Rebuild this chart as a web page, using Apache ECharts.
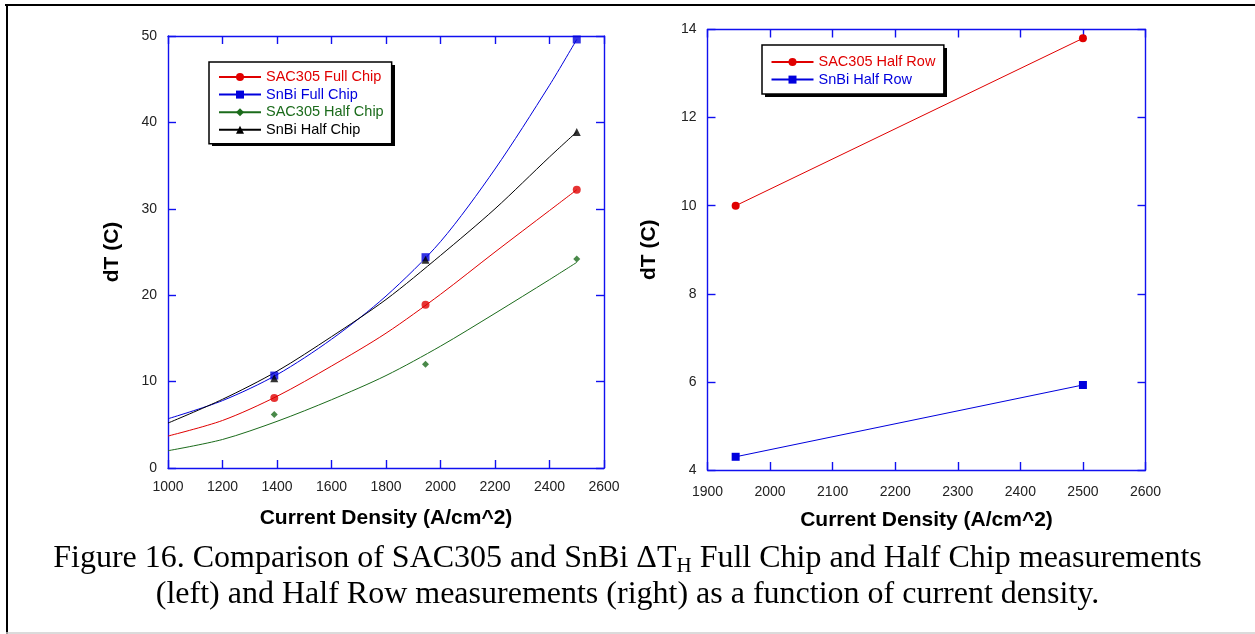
<!DOCTYPE html>
<html>
<head>
<meta charset="utf-8">
<script src="https://cdn.jsdelivr.net/npm/echarts@6/dist/echarts.min.js"></script>
<style>
  html, body { margin: 0; padding: 0; background: #fff; }
  #chart { width: 1255px; height: 634px; }
</style>
</head>
<body>
<div id="chart"></div>
<script>
// measured points (left panel)
const chipX = [1390, 1945, 2500];
const sacFull = [8.1, 18.9, 32.2];
const snbiFull = [10.7, 24.4, 49.6];
const sacHalf = [6.2, 12.0, 24.2];
const snbiHalf = [10.4, 24.1, 38.9];

// fitted curves
const fitX = [1000, 1200, 1400, 1600, 1800, 2000, 2200, 2400, 2500];
const sacFullFit = [3.7, 5.5, 8.3, 11.8, 15.6, 20.1, 25.0, 29.8, 32.2];
const snbiFullFit = [5.7, 7.8, 10.8, 14.9, 19.9, 26.2, 34.6, 44.3, 49.6];
const sacHalfFit = [2.0, 3.3, 5.4, 7.9, 10.7, 14.1, 17.9, 21.8, 23.8];
const snbiHalfFit = [5.2, 7.95, 11.2, 15.2, 19.5, 24.6, 30.0, 36.0, 38.9];

// right panel
const rowX = [1945, 2500];
const sacRow = [10.0, 13.8];
const snbiRow = [4.3, 5.93];

const RED = '#e00000', BLUE = '#0000dd', GREEN = '#1b6b1b', BLACK = '#000000';
const AXIS = '#1010f0';
const SANS = '"Liberation Sans", Arial, sans-serif';
const SERIF = '"Liberation Serif", "Times New Roman", serif';

const pairs = (xs, ys) => xs.map((x, i) => [x, ys[i]]);

function xAxis(grid, pos, min, max, interval, labels, margin) {
  return {
    type: 'value', gridIndex: grid, position: pos, min: min, max: max, interval: interval,
    name: labels ? 'Current Density (A/cm^2)' : '',
    nameLocation: 'middle', nameGap: 40,
    nameTextStyle: { fontFamily: SANS, fontSize: 21, fontWeight: 'bold', color: '#000' },
    axisLine: { show: true, onZero: false, lineStyle: { color: AXIS, width: 1.4 } },
    axisTick: { show: true, inside: true, length: 8, lineStyle: { color: AXIS, width: 1.4 } },
    axisLabel: { show: labels, margin: margin, fontFamily: SANS, fontSize: 14, color: '#222',
      formatter: v => String(v) },
    splitLine: { show: false }
  };
}

function yAxis(grid, pos, min, max, interval, labels, nameGap) {
  return {
    type: 'value', gridIndex: grid, position: pos, min: min, max: max, interval: interval,
    name: labels ? 'dT (C)' : '',
    nameLocation: 'middle', nameGap: nameGap, nameRotate: 90,
    nameTextStyle: { fontFamily: SANS, fontSize: 21, fontWeight: 'bold', color: '#000' },
    axisLine: { show: true, onZero: false, lineStyle: { color: AXIS, width: 1.4 } },
    axisTick: { show: true, inside: true, length: 8, lineStyle: { color: AXIS, width: 1.4 } },
    axisLabel: { show: labels, margin: 11, fontFamily: SANS, fontSize: 14, color: '#222',
      formatter: v => String(v) },
    splitLine: { show: false }
  };
}

function fitSeries(name, ys, color, symbol) {
  return {
    name: name, type: 'line', xAxisIndex: 0, yAxisIndex: 0,
    data: pairs(fitX, ys), smooth: 0.3, symbol: symbol, showSymbol: false,
    lineStyle: { color: color, width: 1 }, itemStyle: { color: color },
    z: 2
  };
}

function pointSeries(name, ys, color, symbol, size) {
  return {
    name: name + ' data', type: 'scatter', xAxisIndex: 0, yAxisIndex: 0,
    data: pairs(chipX, ys), symbol: symbol, symbolSize: size,
    itemStyle: { color: color }, z: 3
  };
}

function legendBox(left, top, items, pad) {
  return {
    left: left, top: top, orient: 'vertical', selectedMode: false, z: 10,
    itemWidth: 42, itemHeight: 10, itemGap: 2.6, padding: pad,
    backgroundColor: '#fff', borderColor: '#000', borderWidth: 1.5,
    textStyle: { fontFamily: SANS, fontSize: 14.5 },
    data: items.map(([n, c]) => ({ name: n, textStyle: { color: c } }))
  };
}

const chart = echarts.init(document.getElementById('chart'), null, { renderer: 'canvas' });

chart.setOption({
  animation: false,
  backgroundColor: '#fff',
  grid: [
    { left: 168, top: 36, width: 436, height: 432 },
    { left: 707.5, top: 29.5, width: 438, height: 440.5 }
  ],
  xAxis: [
    xAxis(0, 'bottom', 1000, 2600, 200, true, 12),
    xAxis(0, 'top', 1000, 2600, 200, false, 12),
    xAxis(1, 'bottom', 1900, 2600, 100, true, 15),
    xAxis(1, 'top', 1900, 2600, 100, false, 15)
  ],
  yAxis: [
    yAxis(0, 'left', 0, 50, 10, true, 45),
    yAxis(0, 'right', 0, 50, 10, false, 45),
    yAxis(1, 'left', 4, 14, 2, true, 48),
    yAxis(1, 'right', 4, 14, 2, false, 48)
  ],
  legend: [
    legendBox(209, 62, [
      ['SAC305 Full Chip', RED], ['SnBi Full Chip', BLUE],
      ['SAC305 Half Chip', GREEN], ['SnBi Half Chip', BLACK]
    ], [7.5, 8, 6.5, 9]),
    legendBox(762, 45, [
      ['SAC305 Half Row', RED], ['SnBi Half Row', BLUE]
    ], [9.5, 8.5, 7, 8.5])
  ],
  series: [
    fitSeries('SAC305 Full Chip', sacFullFit, RED, 'circle'),
    fitSeries('SnBi Full Chip', snbiFullFit, BLUE, 'rect'),
    fitSeries('SAC305 Half Chip', sacHalfFit, GREEN, 'diamond'),
    fitSeries('SnBi Half Chip', snbiHalfFit, BLACK, 'triangle'),
    pointSeries('SAC305 Full Chip', sacFull, RED, 'circle', 8),
    pointSeries('SnBi Full Chip', snbiFull, BLUE, 'rect', 8),
    pointSeries('SAC305 Half Chip', sacHalf, GREEN, 'diamond', 7),
    pointSeries('SnBi Half Chip', snbiHalf, BLACK, 'triangle', 8),
    {
      name: 'SAC305 Half Row', type: 'line', xAxisIndex: 2, yAxisIndex: 2,
      data: pairs(rowX, sacRow), symbol: 'circle', symbolSize: 8,
      lineStyle: { color: RED, width: 1 }, itemStyle: { color: RED }
    },
    {
      name: 'SnBi Half Row', type: 'line', xAxisIndex: 2, yAxisIndex: 2,
      data: pairs(rowX, snbiRow), symbol: 'rect', symbolSize: 8,
      lineStyle: { color: BLUE, width: 1 }, itemStyle: { color: BLUE }
    }
  ],
  graphic: [
    // drop shadows behind the two legend boxes
    { type: 'rect', z: 1, shape: { x: 212, y: 65, width: 183, height: 81 }, style: { fill: '#000' } },
    { type: 'rect', z: 1, shape: { x: 765, y: 48, width: 182, height: 49 }, style: { fill: '#000' } },
    // page frame
    { type: 'line', shape: { x1: 5, y1: 5, x2: 1255, y2: 5 }, style: { stroke: '#000', lineWidth: 2 } },
    { type: 'line', shape: { x1: 7, y1: 4, x2: 7, y2: 634 }, style: { stroke: '#000', lineWidth: 2 } },
    { type: 'line', shape: { x1: 6, y1: 633, x2: 1255, y2: 633 }, style: { stroke: '#cfcfcf', lineWidth: 1.5 } },
    {
      type: 'text', left: 'center', top: 543,
      style: {
        text: '{n|Figure 16. Comparison of SAC305 and SnBi ΔT}{s|H}{n| Full Chip and Half Chip measurements}',
        fill: '#000',
        rich: {
          n: { fontFamily: SERIF, fontSize: 32, lineHeight: 36, fill: '#000' },
          s: { fontFamily: SERIF, fontSize: 21, lineHeight: 20, verticalAlign: 'bottom', fill: '#000' }
        }
      }
    },
    {
      type: 'text', left: 'center', top: 579,
      style: {
        text: '(left) and Half Row measurements (right) as a function of current density.',
        fill: '#000',
        font: '32px ' + SERIF
      }
    }
  ]
});
</script>
</body>
</html>
